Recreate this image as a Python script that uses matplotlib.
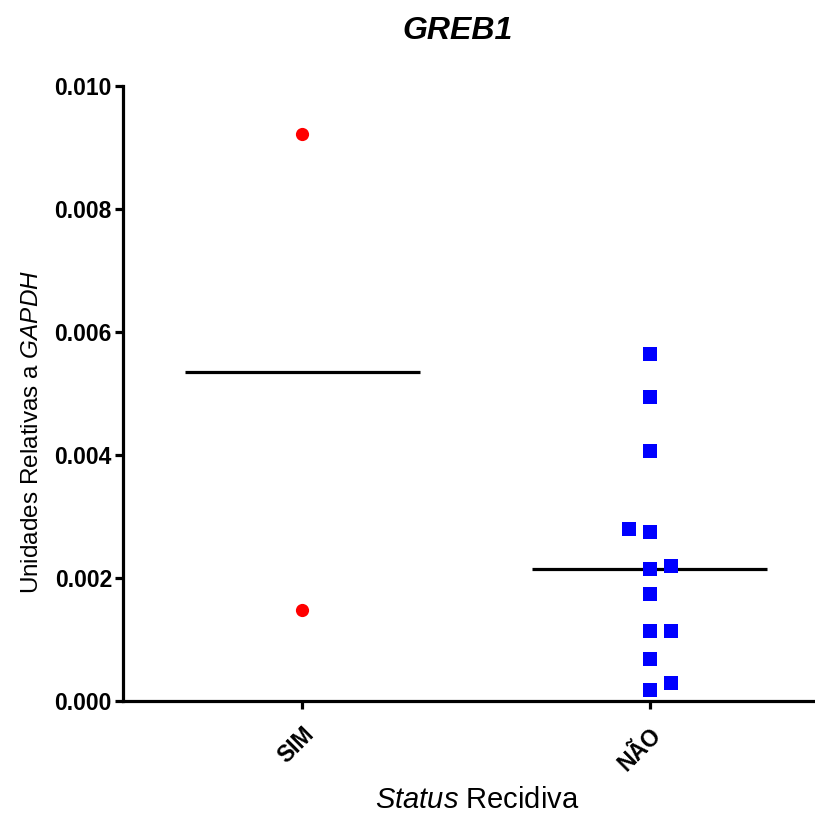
"""GREB1 expression by recurrence status - scatter with median lines."""

import numpy as np
import matplotlib
matplotlib.use("Agg")
import matplotlib.pyplot as plt
from matplotlib.ticker import FormatStrFormatter

plt.rcParams["font.family"] = ["Liberation Sans", "DejaVu Sans"]
plt.rcParams["mathtext.fontset"] = "custom"
plt.rcParams["mathtext.rm"] = "Liberation Sans"
plt.rcParams["mathtext.it"] = "Liberation Sans:italic"
plt.rcParams["mathtext.bf"] = "Liberation Sans:bold"

# data
groups = ["SIM", "NÃO"]
sim_values = [0.00923, 0.00147]
nao_values = [0.00564, 0.00494, 0.00407, 0.00279, 0.00274, 0.00220, 0.00214,
              0.00174, 0.00113, 0.00113, 0.00068, 0.00029, 0.00017]
y_ticks = [0.000, 0.002, 0.004, 0.006, 0.008, 0.010]


def swarm_x(ax, x0, values, marker_px):
    """Column scatter: centre first, side slots when points collide."""
    to_px = ax.transData
    ys = [to_px.transform((x0, v))[1] for v in values]
    order = np.argsort(values)
    placed = {-1: [], 0: [], 1: []}
    slots = np.zeros(len(values))
    for i in order:
        y = ys[i]

        def free(s, gap=marker_px):
            return all(abs(y - p) >= gap for p in placed[s])

        if free(0):
            s = 0
        elif free(1, 3 * marker_px) or not free(-1):
            s = 1
        else:
            s = -1
        placed[s].append(y)
        slots[i] = s
    # slot width in pixels -> data units
    px_per_unit = to_px.transform((1, 0))[0] - to_px.transform((0, 0))[0]
    return x0 + slots * 1.5 * marker_px / px_per_unit


fig = plt.figure(figsize=(8.15, 8.13), dpi=100)
ax = fig.add_axes([0.151, 0.138, 0.849, 0.756])
ax.set_xlim(-0.515, 1.475)
ax.set_ylim(0, 0.010)

sim_x = swarm_x(ax, 0, sim_values, 13)
nao_x = swarm_x(ax, 1, nao_values, 14)
ax.scatter(sim_x, sim_values, s=9.5 ** 2, marker="o", color="#ff0000",
           linewidths=0, zorder=3, clip_on=False)
ax.scatter(nao_x, nao_values, s=10 ** 2, marker="s", color="#0000ff",
           linewidths=0, zorder=3, clip_on=False)

for x0, vals in enumerate([sim_values, nao_values]):
    ax.hlines(np.median(vals), x0 - 0.338, x0 + 0.338, color="black",
              linewidth=2.3, zorder=2)

for side in ["top", "right"]:
    ax.spines[side].set_visible(False)
for side in ["left", "bottom"]:
    ax.spines[side].set_linewidth(2.3)

ax.set_yticks(y_ticks)
ax.yaxis.set_major_formatter(FormatStrFormatter("%.3f"))
ax.set_xticks(range(len(groups)))
ax.set_xticklabels(groups, rotation=45, ha="right", rotation_mode="anchor")
ax.tick_params(axis="both", direction="out", width=2.3, length=6,
               labelsize=16.5)
ax.tick_params(axis="x", pad=10)
ax.tick_params(axis="y", pad=2)
for lab in ax.get_xticklabels() + ax.get_yticklabels():
    lab.set_fontweight("bold")

ax.set_ylabel("Unidades Relativas a $\\it{GAPDH}$", fontsize=17.5)
ax.yaxis.set_label_coords(-0.116, 0.438)
ax.set_xlabel("$\\it{Status}$ Recidiva", fontsize=21)
ax.xaxis.set_label_coords(0.512, -0.138)
ax.text(0.484, 1.09, "GREB1", transform=ax.transAxes, ha="center",
        va="center", fontsize=23, fontweight="bold", fontstyle="italic")

fig.savefig("out.png", dpi=100)
